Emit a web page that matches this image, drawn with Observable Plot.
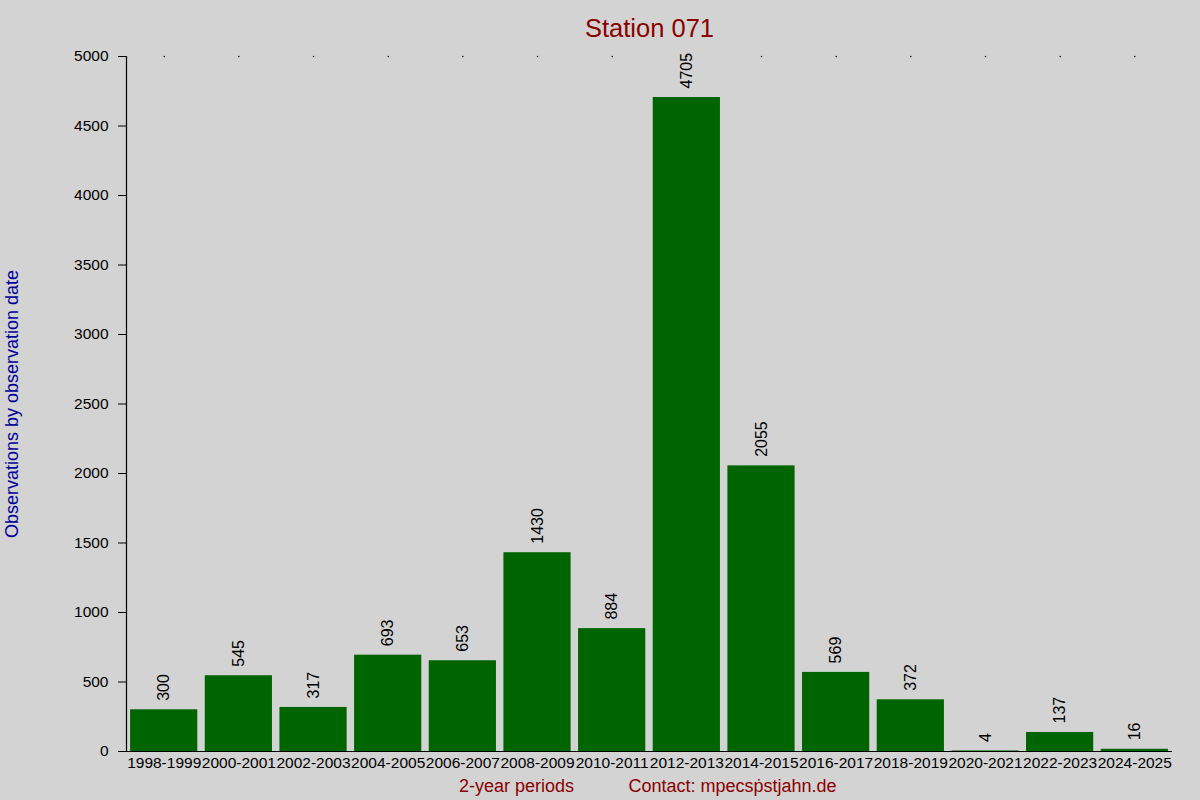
<!DOCTYPE html>
<html>
<head>
<meta charset="utf-8">
<script src="https://cdn.jsdelivr.net/npm/d3@7"></script>
<script src="https://cdn.jsdelivr.net/npm/@observablehq/plot@0.6"></script>
<style>
  html, body { margin: 0; padding: 0; background: #d3d3d3; }
  #chart svg { display: block; }
</style>
</head>
<body>
<div id="chart"></div>
<script>
const periods = ["1998-1999","2000-2001","2002-2003","2004-2005","2006-2007","2008-2009","2010-2011","2012-2013","2014-2015","2016-2017","2018-2019","2020-2021","2022-2023","2024-2025"];
const counts = [300, 545, 317, 693, 653, 1430, 884, 4705, 2055, 569, 372, 4, 137, 16];
const yTicks = [0, 500, 1000, 1500, 2000, 2500, 3000, 3500, 4000, 4500, 5000];
const titleText = "Station 071";
const xLabel = "2-year periods";
const contactText = "Contact: mpecs\u1E57stjahn.de";
const yLabel = "Observations by observation date";

const data = periods.map((p, i) => ({period: p, count: counts[i]}));
const font = "'Liberation Sans', Arial, sans-serif";

const chart = Plot.plot({
  width: 1200,
  height: 800,
  marginTop: 56,
  marginBottom: 49,
  marginLeft: 126,
  marginRight: 28,
  style: {background: "#d3d3d3", fontFamily: font, fontSize: "15.5px", color: "black"},
  x: {type: "band", domain: periods, paddingInner: 0.1, paddingOuter: 0.055, round: false, label: null},
  y: {domain: [0, 5000], label: null},
  marks: [
    Plot.barY(data, {x: "period", y: "count", fill: "#006400"}),
    Plot.text(data, {x: "period", y: "count", text: d => String(d.count), rotate: -90, textAnchor: "start", dy: -9, fontSize: 16, fill: "black"}),
    Plot.ruleY([0], {stroke: "black", strokeWidth: 1.2}),
    Plot.frame({anchor: "left", stroke: "black", strokeWidth: 1.2}),
    Plot.axisY({ticks: yTicks, tickFormat: "d", tickSize: 8, tickPadding: 10, label: null, fontSize: 15.5, stroke: "black", strokeOpacity: 1}),
    Plot.axisX({tickSize: 0, tickPadding: 5, label: null, fontSize: 15.5}),
    Plot.dot(periods, {x: d => d, frameAnchor: "top", r: 0.7, fill: "black", stroke: null}),
    Plot.text([titleText], {frameAnchor: "top", dy: -38, fontSize: 25.5, fill: "#8b0000"}),
    Plot.text([xLabel], {x: () => periods[5], frameAnchor: "bottom", dx: -21, dy: 40, fontSize: 18, fill: "#8b0000"}),
    Plot.text([contactText], {x: () => periods[8], frameAnchor: "bottom", dx: -29, dy: 40, fontSize: 18, fill: "#8b0000"}),
    Plot.text([yLabel], {frameAnchor: "left", textAnchor: "middle", dx: -114, rotate: -90, fontSize: 18, fill: "#000099"})
  ]
});
document.getElementById("chart").appendChild(chart);
</script>
</body>
</html>
